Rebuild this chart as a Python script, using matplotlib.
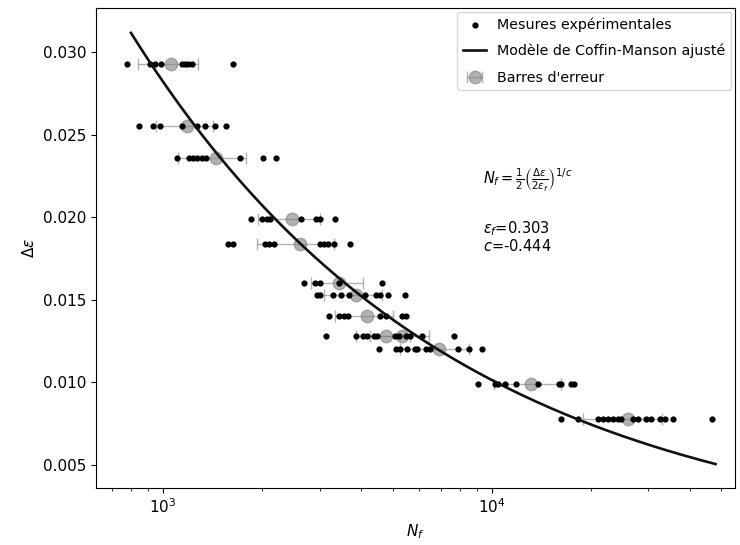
import numpy as np
import matplotlib.pyplot as plt

# strain amplitude levels (one row of measurements per level)
eps_levels = [0.0293, 0.0255, 0.0236, 0.0199, 0.0184, 0.0160, 0.0153,
              0.0140, 0.0128, 0.0128, 0.0120, 0.0099, 0.0078]

# cycles to failure measured at each level
cycles = [
    [779, 913, 946, 986, 1140, 1167, 1194, 1223, 1629],
    [847, 934, 979, 1140, 1266, 1341, 1439, 1554],
    [1106, 1202, 1236, 1272, 1311, 1351, 1714, 2018, 2216],
    [1860, 2009, 2075, 2125, 2640, 2933, 3001, 3333],
    [1579, 1629, 2042, 2104, 2175, 3001, 3086, 3181, 3310, 3702],
    [2683, 2897, 3001, 3435, 4654],
    [2944, 3001, 3293, 3493, 3684, 4111, 4461, 4566, 4839, 5440],
    [3203, 3435, 3550, 3658, 4566, 4762, 5353, 5478],
    [3130, 3860, 4062, 4178, 4481, 5072, 5225],
    [4378, 5505, 5661, 6157, 7665],
    [4544, 5132, 5253, 5542, 5834, 5929, 6331, 6480, 7899, 8531, 9370],
    [9088, 10212, 10450, 10951, 11888, 13828, 16020, 16291, 17470, 17754],
    [16291, 18298, 21040, 21790, 22570, 23370, 24210, 24790, 26890, 27850,
     29530, 30580, 32570, 33800, 35750, 46860],
]

# mean and standard deviation per level
mean_N = [1058, 1186, 1449, 2479, 2621, 3435, 3860, 4178, 4762, 5353, 6917, 13205, 25960]
std_N = [220, 230, 340, 535, 688, 615, 775, 830, 900, 1085, 1640, 3040, 7000]

# fitted Coffin-Manson parameters
eps_f = 0.303
c = -0.444
N_range = [800, 48000]

fig = plt.figure(figsize=(7.4, 5.45), dpi=100)
ax = fig.add_axes([0.1297, 0.1046, 0.8635, 0.8807])

xs, ys = [], []
for eps, row in zip(eps_levels, cycles):
    xs += row
    ys += [eps] * len(row)
ax.scatter(xs, ys, s=12, color='black', label='Mesures expérimentales', zorder=3)

N_fit = np.logspace(np.log10(N_range[0]), np.log10(N_range[1]), 200)
eps_fit = 2 * eps_f * N_fit ** c
ax.plot(N_fit, eps_fit, color='#111111', lw=1.9, label='Modèle de Coffin-Manson ajusté', zorder=4)

ax.errorbar(mean_N, eps_levels, xerr=std_N, fmt='o', color='gray', ms=9, alpha=0.6,
            ecolor='gray', elinewidth=1, capsize=4.5, label="Barres d'erreur", zorder=2)

ax.set_xscale('log')
ax.set_xlim(626, 55000)
ax.set_ylim(0.00361, 0.03266)
ax.set_xlabel('$N_f$', fontsize=11)
ax.set_ylabel(r'$\Delta\varepsilon$', fontsize=11)
ax.tick_params(labelsize=11)

ax.text(0.605, 0.64, r'$N_f = \frac{1}{2}\left(\frac{\Delta\varepsilon}{2\varepsilon_f}\right)^{1/c}$',
        transform=ax.transAxes, fontsize=10.5, va='center')
ax.text(0.605, 0.56, '$\\varepsilon_f$=%.3f\n$c$=%.3f' % (eps_f, c),
        transform=ax.transAxes, fontsize=10.5, va='top', linespacing=1.0)

ax.legend(loc='upper right', fontsize=10.3, labelspacing=0.85, handlelength=1.6,
          borderaxespad=0.25)

fig.savefig('out.png', dpi=100)
